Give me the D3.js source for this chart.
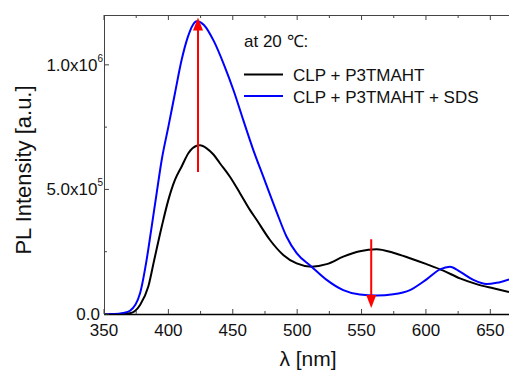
<!DOCTYPE html>
<html><head><meta charset="utf-8">
<script src="https://cdn.jsdelivr.net/npm/d3@7"></script>
<style>body{margin:0;background:#fff}svg{display:block}text{font-family:"Liberation Sans",Arial,sans-serif}</style>
</head><body><svg id="c" width="509" height="372"></svg>
<script>
const seriesNames = ["CLP + P3TMAHT", "CLP + P3TMAHT + SDS"];
const seriesColors = ["#000000", "#0000ff"];
const wlBlack = [350,362,370.2,378,384.4,389,394.8,400,405.1,410.3,415.5,422,424.5,429.7,435,440,447.8,455.6,463.3,468.5,478.9,489.2,499.6,511.2,522.9,535.8,548.7,561.7,574.6,587.6,600.5,613.5,626.4,639.3,652.3,664.5];
const valBlack = [0,0,0.003,0.036,0.11,0.217,0.35,0.458,0.538,0.592,0.645,0.675,0.677,0.665,0.64,0.605,0.551,0.485,0.418,0.378,0.297,0.237,0.203,0.19,0.2,0.23,0.252,0.26,0.246,0.224,0.2,0.174,0.143,0.12,0.103,0.088];
const wlBlue = [350,358,365,370.2,378,383.1,387,390.9,394.8,400,405.1,410.3,415,419,422,427.6,435.4,443.2,450.9,458.1,465.9,473.7,484,491.8,499.6,511.2,522.9,535.8,548.7,561.7,574.6,587.6,600.5,610.9,618.6,626.4,636.8,647.1,654.9,664.5];
const valBlue = [0,0,0.004,0.013,0.083,0.217,0.35,0.485,0.618,0.752,0.886,1.02,1.11,1.16,1.175,1.16,1.094,1.0,0.893,0.779,0.659,0.551,0.41,0.31,0.244,0.19,0.137,0.096,0.078,0.074,0.079,0.096,0.139,0.179,0.19,0.17,0.137,0.12,0.125,0.139];
const xTicks = [350,400,450,500,550,600,650];
const yTicks = [0, 5e5, 1e6];
const yTickLabels = [["0.0",""],["5.0x10","5"],["1.0x10","6"]];
const arrowUp = {x:423, from:0.57e6, to:1.19e6};
const arrowDown = {x:557.5, from:0.3e6, to:0.024e6};

const svg = d3.select("#c");
const L=104, R=509, T=15, B=314;
const x = d3.scaleLinear().domain([350,664.5]).range([L,R]);
const y = d3.scaleLinear().domain([0,1.2e6]).range([B,T]);

const g = svg.append("g");
const line = d3.line().x(d=>x(d[0])).y(d=>y(d[1]*1e6)).curve(d3.curveMonotoneX);
[[wlBlack,valBlack],[wlBlue,valBlue]].forEach((s,i)=>{
  g.append("path").datum(s[0].map((w,j)=>[w,s[1][j]])).attr("d",line)
   .attr("fill","none").attr("stroke",seriesColors[i]).attr("stroke-width",2);
});

const axc="#444";
const minorX = d3.range(375,665,50);
const minorY = [2.5e5,7.5e5];
function tickSet(sel, vals, len, orient){
  vals.forEach(v=>{
    if(orient==="b") sel.append("line").attr("x1",x(v)).attr("x2",x(v)).attr("y1",B).attr("y2",B-len);
    if(orient==="t") sel.append("line").attr("x1",x(v)).attr("x2",x(v)).attr("y1",T).attr("y2",T+len);
    if(orient==="l") sel.append("line").attr("x1",L).attr("x2",L+len).attr("y1",y(v)).attr("y2",y(v));
  });
}
const ax = svg.append("g").attr("stroke",axc).attr("stroke-width",1);
ax.append("line").attr("x1",L).attr("x2",R).attr("y1",B+0.5).attr("y2",B+0.5).attr("stroke","#000").attr("stroke-width",1.5);
ax.append("line").attr("x1",L).attr("x2",R).attr("y1",T+0.5).attr("y2",T+0.5);
ax.append("line").attr("x1",L+0.5).attr("x2",L+0.5).attr("y1",T).attr("y2",B);
tickSet(ax,xTicks,5,"b"); tickSet(ax,minorX,3,"b");
tickSet(ax,xTicks,5,"t"); tickSet(ax,minorX,3,"t");
tickSet(ax,yTicks,5,"l"); tickSet(ax,minorY,3,"l");

xTicks.forEach(v=>{
  svg.append("text").attr("x",x(v)).attr("y",336).attr("text-anchor","middle").attr("font-size",17).attr("fill","#111").text(v);
});
yTicks.forEach((v,i)=>{
  const hasSup = !!yTickLabels[i][1];
  const t = svg.append("text").attr("x",hasSup?103:100).attr("y",y(v)+6).attr("text-anchor","end").attr("font-size",17).attr("fill","#111");
  t.append("tspan").text(yTickLabels[i][0]);
  if(hasSup) t.append("tspan").attr("dy",-9).attr("font-size",10).text(yTickLabels[i][1]);
});

svg.append("text").attr("x",308).attr("y",366).attr("text-anchor","middle").attr("font-size",21).attr("fill","#111").text("λ [nm]");
svg.append("text").attr("transform","translate(31,170) rotate(-90)").attr("text-anchor","middle").attr("font-size",22).attr("fill","#111").text("PL Intensity [a.u.]");

svg.append("text").attr("x",244).attr("y",46.5).attr("font-size",17).attr("fill","#111").text("at 20 ℃:");
seriesNames.forEach((n,i)=>{
  const yy = 74.5 + i*21.5;
  svg.append("line").attr("x1",244).attr("x2",283).attr("y1",yy).attr("y2",yy).attr("stroke",seriesColors[i]).attr("stroke-width",2);
  svg.append("text").attr("x",293).attr("y",yy+6.5).attr("font-size",17).attr("fill","#111").text(n);
});

function arrow(a){
  const xx = x(a.x), y0=y(a.from), y1=y(a.to);
  const dir = y1<y0 ? -1 : 1;
  const head = 13;
  svg.append("line").attr("x1",xx).attr("x2",xx).attr("y1",y0).attr("y2",y1-dir*head+dir*2).attr("stroke","#ff0000").attr("stroke-width",2);
  svg.append("path").attr("d",`M${xx},${y1} L${xx-5},${y1-dir*head} L${xx+5},${y1-dir*head} Z`).attr("fill","#ff0000");
}
arrow(arrowUp); arrow(arrowDown);
</script></body></html>
